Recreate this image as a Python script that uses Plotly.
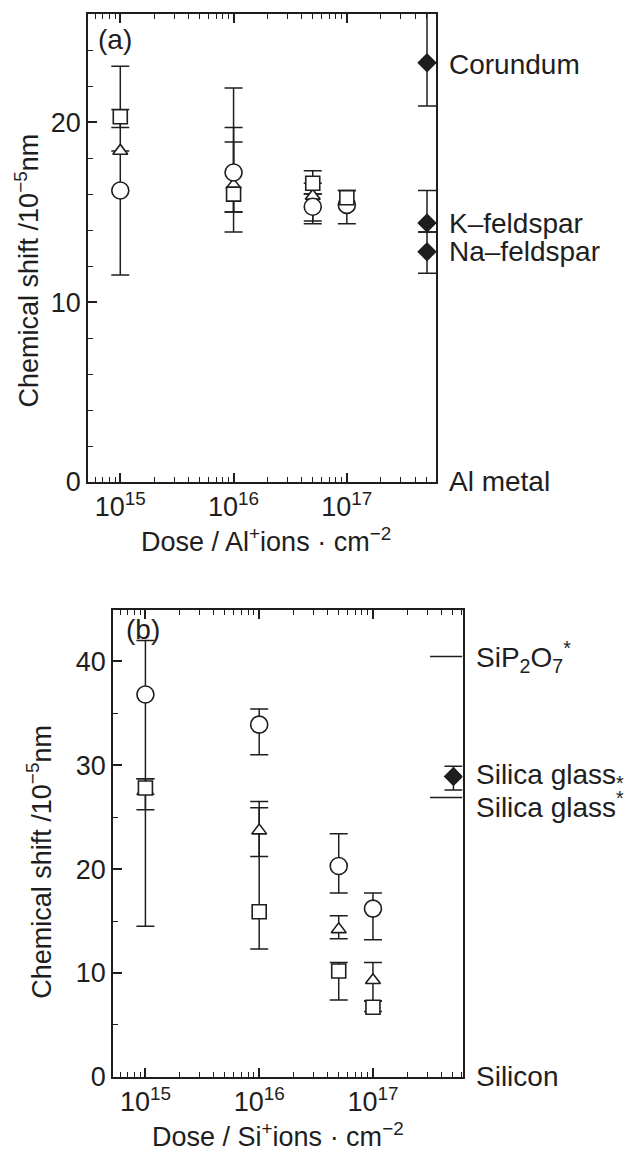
import plotly.graph_objects as go

# ---------------- data ----------------
dose = [1e15, 1e16, 5e16, 1e17]
dose_labels = ["10<sup>15</sup>", "10<sup>16</sup>", "10<sup>17</sup>"]
dose_ticks = [1e15, 1e16, 1e17]

# panel (a): Al+ implantation
al_circle = [16.2, 17.2, 15.3, 15.4]
al_circle_lo = [11.5, 13.9, 14.35, 14.35]
al_circle_hi = [23.1, 21.9, 16.0, 16.2]
al_triangle = [18.4, 16.5, 15.9, None]
al_triangle_lo = [18.4, 15.0, 14.5, None]
al_triangle_hi = [18.4, 18.9, 16.6, None]
al_square = [20.3, 16.0, 16.6, 15.8]
al_square_lo = [19.7, 15.0, 16.0, 15.4]
al_square_hi = [20.7, 19.7, 17.3, 16.2]

al_ref_names = ["Corundum", "K\u2013feldspar", "Na\u2013feldspar", "Al metal"]
al_ref_label_y = [23.2, 14.35, 12.8, 0.0]
al_ref_dose = [5.1e17, 5.1e17, 5.1e17]
al_ref_shift = [23.3, 14.4, 12.8]
al_ref_lo = [20.9, 13.9, 11.6]
al_ref_hi = [26.6, 16.2, 13.9]

# panel (b): Si+ implantation
si_circle = [36.8, 33.9, 20.3, 16.2]
si_circle_lo = [14.5, 31.0, 17.7, 13.2]
si_circle_hi = [42.0, 35.4, 23.4, 17.7]
si_triangle = [27.6, 23.7, 14.2, 9.3]
si_triangle_lo = [25.7, 21.2, 13.3, 7.3]
si_triangle_hi = [28.7, 26.5, 15.5, 11.0]
si_square = [27.8, 15.9, 10.2, 6.7]
si_square_lo = [27.2, 12.3, 7.4, 6.3]
si_square_hi = [28.7, 25.9, 11.0, 7.3]

si_ref_names = ["SiP<sub>2</sub>O<sub>7</sub><sup>*</sup>", "Silica glass<sub>*</sub>",
                "Silica glass<sup>*</sup>", "Silicon"]
si_ref_label_y = [40.45, 28.9, 26.2, 0.0]
si_glass_dose = [5.1e17]
si_glass_shift = [28.9]
si_glass_lo = [27.6]
si_glass_hi = [29.9]
si_line_dose = [4.4e17, 4.4e17]
si_line_shift = [40.45, 26.9]

# ---------------- style ----------------
W, H = 631, 1163
FONT = "Liberation Sans, Arial, Helvetica, sans-serif"
INK = "#1e1e1e"
FS = 27

fig = go.Figure()


def err(vals, lo, hi):
    up = [None if v is None else h - v for v, h in zip(vals, hi)]
    dn = [None if v is None else v - l for v, l in zip(vals, lo)]
    return up, dn


def add_errors(xa, ya, vals, lo, hi, cap=9):
    up, dn = err(vals, lo, hi)
    fig.add_trace(go.Scatter(
        x=dose, y=vals, mode="markers", xaxis=xa, yaxis=ya, showlegend=False,
        marker=dict(size=1, color="rgba(0,0,0,0)", line=dict(width=0)),
        error_y=dict(type="data", symmetric=False, array=up, arrayminus=dn,
                     color=INK, thickness=1.5, width=cap),
        hoverinfo="skip"))


def add_markers(xa, ya, vals, symbol, size):
    fig.add_trace(go.Scatter(
        x=dose, y=vals, mode="markers", xaxis=xa, yaxis=ya, showlegend=False,
        marker=dict(symbol=symbol, size=size, color="white",
                    line=dict(color=INK, width=1.6))))


# panel (a)
add_errors("x", "y", al_circle, al_circle_lo, al_circle_hi)
add_errors("x", "y", al_triangle, al_triangle_lo, al_triangle_hi)
add_errors("x", "y", al_square, al_square_lo, al_square_hi)
add_markers("x", "y", al_triangle, "triangle-up", 13)
add_markers("x", "y", al_circle, "circle", 17)
add_markers("x", "y", al_square, "square", 14)

up, dn = err(al_ref_shift, al_ref_lo, al_ref_hi)
fig.add_trace(go.Scatter(
    x=al_ref_dose, y=al_ref_shift, mode="markers", xaxis="x", yaxis="y", showlegend=False,
    marker=dict(symbol="diamond", size=15, color=INK),
    error_y=dict(type="data", symmetric=False, array=up, arrayminus=dn,
                 color=INK, thickness=1.5, width=9)))

# panel (b)
add_errors("x2", "y2", si_circle, si_circle_lo, si_circle_hi)
add_errors("x2", "y2", si_triangle, si_triangle_lo, si_triangle_hi)
add_errors("x2", "y2", si_square, si_square_lo, si_square_hi)
add_markers("x2", "y2", si_triangle, "triangle-up", 13)
add_markers("x2", "y2", si_circle, "circle", 17)
add_markers("x2", "y2", si_square, "square", 14)

up, dn = err(si_glass_shift, si_glass_lo, si_glass_hi)
fig.add_trace(go.Scatter(
    x=si_glass_dose, y=si_glass_shift, mode="markers", xaxis="x2", yaxis="y2", showlegend=False,
    marker=dict(symbol="diamond", size=15, color=INK),
    error_y=dict(type="data", symmetric=False, array=up, arrayminus=dn,
                 color=INK, thickness=1.5, width=9)))
fig.add_trace(go.Scatter(
    x=si_line_dose, y=si_line_shift, mode="markers", xaxis="x2", yaxis="y2", showlegend=False,
    marker=dict(symbol="line-ew", size=23, line=dict(color=INK, width=1.5))))

# ---------------- axes ----------------
minor_vals = [m * 10 ** e for e in (14, 15, 16, 17) for m in range(2, 10)]


def xaxis(domain, anchor):
    return dict(type="log", range=[14.715, 17.787], domain=domain, anchor=anchor,
                tickvals=dose_ticks, ticktext=dose_labels, ticks="inside", ticklen=9,
                tickwidth=1.5, tickcolor=INK, showline=True, linewidth=1.5, linecolor=INK,
                mirror="ticks", showgrid=False, zeroline=False,
                tickfont=dict(family=FONT, size=FS, color=INK),
                minor=dict(tickvals=minor_vals, ticks="inside", ticklen=5, tickwidth=1.2,
                           tickcolor=INK, showgrid=False))


def yaxis(domain, anchor, top, dtick, mdtick):
    return dict(range=[0, top], domain=domain, anchor=anchor, dtick=dtick, tick0=0,
                ticks="inside", ticklen=9, tickwidth=1.5, tickcolor=INK, showline=True,
                linewidth=1.5, linecolor=INK, mirror=True, showgrid=False, zeroline=False,
                tickfont=dict(family=FONT, size=FS, color=INK),
                minor=dict(dtick=mdtick, ticks="inside", ticklen=5, tickwidth=1.2,
                           tickcolor=INK, showgrid=False))


fig.update_layout(
    width=W, height=H, margin=dict(l=0, r=0, t=0, b=0),
    paper_bgcolor="white", plot_bgcolor="white",
    font=dict(family=FONT, size=FS, color=INK),
    xaxis=xaxis([88 / W, 436 / W], "y"),
    yaxis=yaxis([1 - 488.3 / H, 1 - 14 / H], "x", 26.02, 10, 2),
    xaxis2=xaxis([113 / W, 462.5 / W], "y2"),
    yaxis2=yaxis([1 - 1091 / H, 1 - 618.3 / H], "x2", 44.9, 10, 5),
)

ann = []
for name, yv in zip(al_ref_names, al_ref_label_y):
    ann.append(dict(text=name, x=447 / W, xref="paper", y=yv, yref="y",
                    xanchor="left", yanchor="middle", showarrow=False,
                    font=dict(size=28)))
for name, yv in zip(si_ref_names, si_ref_label_y):
    ann.append(dict(text=name, x=474 / W, xref="paper", y=yv, yref="y2",
                    xanchor="left", yanchor="middle", showarrow=False,
                    font=dict(size=28)))
ann.append(dict(text="(a)", x=96 / W, y=1 - 40 / H, xref="paper", yref="paper",
                xanchor="left", yanchor="middle", showarrow=False, font=dict(size=28)))
ann.append(dict(text="(b)", x=124 / W, y=1 - 638 / H, xref="paper", yref="paper",
                xanchor="left", yanchor="middle", showarrow=False, font=dict(size=28)))
ytitle = "Chemical shift /10<sup>\u22125</sup>nm"
ann.append(dict(text=ytitle, x=27 / W, y=1 - 274 / H, xref="paper", yref="paper",
                textangle=-90, xanchor="center", yanchor="middle", showarrow=False,
                font=dict(size=27)))
ann.append(dict(text=ytitle, x=39 / W, y=1 - 873 / H, xref="paper", yref="paper",
                textangle=-90, xanchor="center", yanchor="middle", showarrow=False,
                font=dict(size=27)))
ann.append(dict(text="Dose / Al<sup>+</sup>ions \u00b7 cm<sup>\u22122</sup>", x=266 / W,
                y=1 - 547 / H, xref="paper", yref="paper", xanchor="center",
                yanchor="middle", showarrow=False, font=dict(size=27)))
ann.append(dict(text="Dose / Si<sup>+</sup>ions \u00b7 cm<sup>\u22122</sup>", x=278 / W,
                y=1 - 1150 / H, xref="paper", yref="paper", xanchor="center",
                yanchor="middle", showarrow=False, font=dict(size=27)))
fig.update_layout(annotations=ann)

fig.write_html("out.html")
